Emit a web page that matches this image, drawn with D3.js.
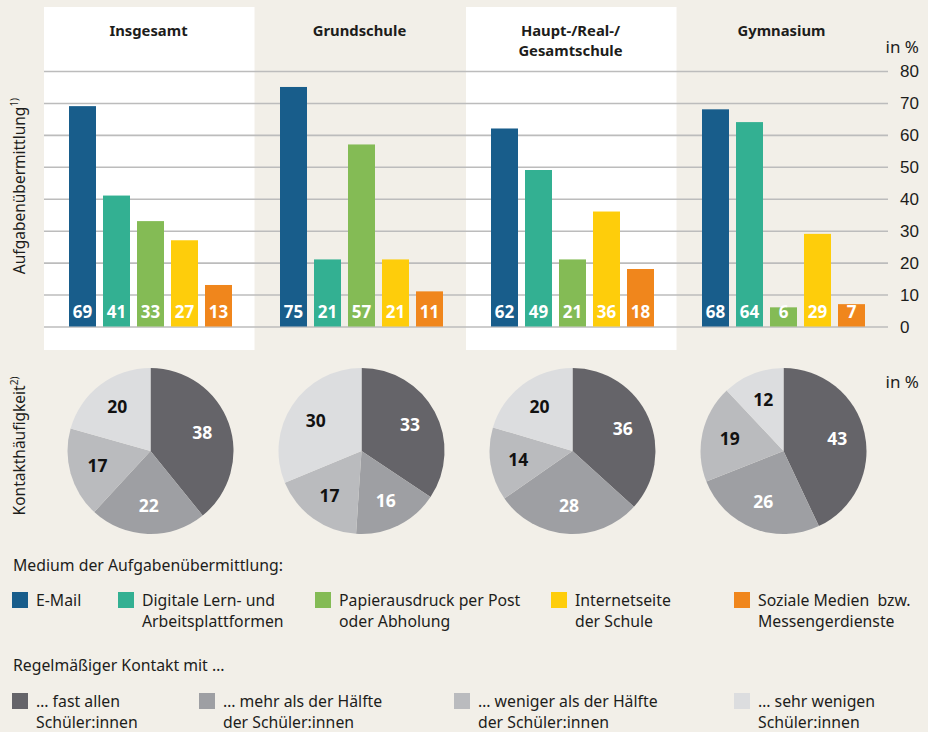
<!DOCTYPE html>
<html>
<head>
<meta charset="utf-8">
<script src="https://cdn.jsdelivr.net/npm/d3@7"></script>
<style>
  html, body { margin: 0; padding: 0; background: #f2efe8; }
  svg { display: block; font-family: "Noto Sans", "Open Sans", sans-serif; }
  text { white-space: pre; }
</style>
</head>
<body>
<svg id="chart" width="928" height="732"></svg>
<script>
// School types (one column each)
const groups = ["Insgesamt", "Grundschule", "Haupt-/Real-/\nGesamtschule", "Gymnasium"];

// Medium of task transmission, in %
const media = ["E-Mail", "Digitale Lern- und\nArbeitsplattformen", "Papierausdruck per Post\noder Abholung", "Internetseite\nder Schule", "Soziale Medien  bzw.\nMessengerdienste"];
const mediaColors = ["#185d8b", "#33b092", "#84bb55", "#fecd0b", "#f0861c"];
const emailValues     = [69, 75, 62, 68];
const platformValues  = [41, 21, 49, 64];
const paperValues     = [33, 57, 21, 6];
const websiteValues   = [27, 21, 36, 29];
const socialValues    = [13, 11, 18, 7];
const mediaSeries = [emailValues, platformValues, paperValues, websiteValues, socialValues];

// Contact frequency, in %
const contact = ["… fast allen\nSchüler:innen", "… mehr als der Hälfte\nder Schüler:innen", "… weniger als der Hälfte\nder Schüler:innen", "… sehr wenigen\nSchüler:innen"];
const contactColors = ["#656469", "#9e9fa3", "#babbbe", "#dcdddf"];
const contactLabelColors = ["#ffffff", "#ffffff", "#111111", "#111111"];
const almostAll  = [38, 33, 36, 43];
const moreHalf   = [22, 16, 28, 26];
const lessHalf   = [17, 17, 14, 19];
const veryFew    = [20, 30, 20, 12];
const contactSeries = [almostAll, moreHalf, lessHalf, veryFew];

const yTicks = [0, 10, 20, 30, 40, 50, 60, 70, 80];

const svg = d3.select("#chart");
const textColor = "#1d1d1b";

// Column bands
const x0 = d3.scaleBand().domain(d3.range(groups.length)).range([44, 888]).paddingInner(0).paddingOuter(0);
const x1 = d3.scaleBand().domain(d3.range(media.length)).range([25, 25 + 34 * 5 - 7]).paddingInner(7 / 34).paddingOuter(0);
const y = d3.scaleLinear().domain([0, 80]).range([326.5, 71]);

// White background panels for alternating columns
[0, 2].forEach(g => {
  svg.append("rect")
    .attr("x", x0(g)).attr("y", 7)
    .attr("width", x0.bandwidth() - 0.5).attr("height", 343)
    .attr("fill", "#ffffff");
});

// Gridlines and right axis
const yAxis = d3.axisRight(y).tickValues(yTicks).tickSize(-(888 - 44)).tickPadding(12);
const gAxis = svg.append("g").attr("transform", "translate(888,0)").call(yAxis);
gAxis.select(".domain").remove();
gAxis.selectAll(".tick line").attr("stroke", "#bcbcbc").attr("stroke-width", 1.6);
gAxis.selectAll(".tick text")
  .attr("fill", textColor).attr("font-size", 17).attr("x", 12).attr("dy", "0.34em")
  .attr("text-anchor", "start");

svg.append("text").attr("x", 919).attr("y", 53).attr("text-anchor", "end")
  .attr("font-size", 17).attr("fill", textColor).text("in %");
svg.append("text").attr("x", 919).attr("y", 388).attr("text-anchor", "end")
  .attr("font-size", 17).attr("fill", textColor).text("in %");

// Column titles (one text element per line)
groups.forEach((name, g) => {
  const cx = x0(g) + x0.bandwidth() / 2 - 1;
  name.split("\n").forEach((l, i) => {
    svg.append("text")
      .attr("x", cx).attr("y", 35.5 + i * 20.3)
      .attr("text-anchor", "middle").attr("font-weight", "bold")
      .attr("font-size", 14.8).attr("fill", textColor).text(l);
  });
});

// Bars with value labels
groups.forEach((_, g) => {
  const gg = svg.append("g").attr("transform", `translate(${x0(g)},0)`);
  mediaSeries.forEach((series, m) => {
    const v = series[g];
    gg.append("rect")
      .attr("x", x1(m)).attr("y", y(v))
      .attr("width", x1.bandwidth()).attr("height", y(0) - y(v))
      .attr("fill", mediaColors[m]);
    gg.append("text")
      .attr("x", x1(m) + x1.bandwidth() / 2).attr("y", 318)
      .attr("text-anchor", "middle").attr("font-weight", "bold")
      .attr("font-size", 17).attr("fill", "#ffffff").text(v);
  });
});

// Pies
const pie = d3.pie().sort(null).value(d => d);
const arc = d3.arc().innerRadius(0).outerRadius(83);
const labelArc = d3.arc().innerRadius(55).outerRadius(55);
groups.forEach((_, g) => {
  const vals = contactSeries.map(s => s[g]);
  const cx = x0(g) + x0.bandwidth() / 2 + 1;
  const gp = svg.append("g").attr("transform", `translate(${cx},451)`);
  const arcs = pie(vals);
  gp.selectAll("path").data(arcs).join("path")
    .attr("d", arc).attr("fill", (d, i) => contactColors[i]);
  gp.selectAll("text").data(arcs).join("text")
    .attr("transform", d => `translate(${labelArc.centroid(d)})`)
    .attr("text-anchor", "middle").attr("dy", "0.36em")
    .attr("font-weight", "bold").attr("font-size", 17.5)
    .attr("fill", (d, i) => contactLabelColors[i]).text(d => d.data);
});

// Axis titles (rotated)
svg.append("text").attr("transform", "translate(25,186) rotate(-90)")
  .attr("text-anchor", "middle").attr("font-size", 15.5).attr("fill", textColor)
  .text("Aufgabenübermittlung").append("tspan").attr("font-size", 10).attr("dy", -7).text("1)");
svg.append("text").attr("transform", "translate(25,446) rotate(-90)")
  .attr("text-anchor", "middle").attr("font-size", 15.5).attr("fill", textColor)
  .text("Kontakthäufigkeit").append("tspan").attr("font-size", 10).attr("dy", -7).text("2)");

// Legends
function legend(title, titleY, items, colors, xs, rowY) {
  svg.append("text").attr("x", 13).attr("y", titleY).attr("font-size", 15.8)
    .attr("fill", textColor).text(title);
  items.forEach((label, i) => {
    svg.append("rect").attr("x", xs[i]).attr("y", rowY).attr("width", 16).attr("height", 16)
      .attr("fill", colors[i]);
    const t = svg.append("text").attr("x", xs[i] + 24).attr("y", rowY + 14)
      .attr("font-size", 15.8).attr("fill", textColor);
    label.split("\n").forEach((l, k) => t.append("tspan").attr("x", xs[i] + 24).attr("dy", k ? 21 : 0).text(l));
  });
}
legend("Medium der Aufgabenübermittlung:", 571, media, mediaColors, [12, 118, 315, 551, 734], 592);
legend("Regelmäßiger Kontakt mit …", 671, contact, contactColors, [12, 199, 454, 734], 693);
</script>
</body>
</html>
